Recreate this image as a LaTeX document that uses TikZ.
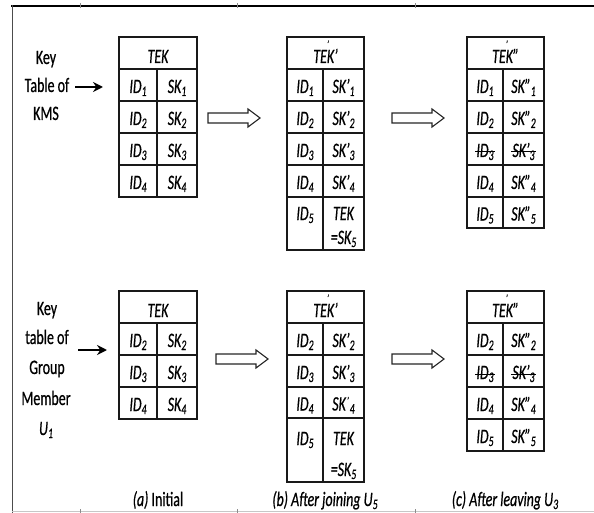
\documentclass[tikz,border=0pt]{standalone}
\usepackage{fontspec}
\setmainfont{Carlito}[FakeStretch=0.68, FakeBold=0.6]
\usetikzlibrary{arrows.meta}

% lowered index digit
\newcommand\dn[1]{\raisebox{-3pt}{\fontsize{14.5}{14.5}\selectfont #1}}
% TEK header with the small tick mark above it
\newcommand\hdtek[1]{TE\rlap{\raisebox{15pt}{\fontsize{11}{11}\selectfont ’}}K#1}

\tikzset{
  cellbox/.style={draw=black!90, line width=1.1pt, inner sep=0pt, outer sep=0pt},
  celltext/.style={anchor=base, inner sep=0pt, text=black,
    font=\fontsize{20.5}{24}\selectfont\itshape},
  labeltext/.style={anchor=base, inner sep=0pt, text=black,
    font=\fontsize{20.5}{24}\selectfont},
  hollowarrow/.style={draw=black!85, line width=1.1pt, fill=white, line join=miter},
  solidarrow/.style={draw=black, line width=1.9pt, -{Stealth[length=10pt,width=10pt]}},
  strike/.style={draw=black, line width=1pt}
}

% header cell: name, left, right, top, text
\newcommand\hdcell[5]{%
  \node[cellbox, minimum width={#3-#2}, minimum height=32] (#1) at ({(#2+#3)/2},{#4+16}) {};
  \node[celltext] (#1-t) at ([yshift=-10pt]#1.center) {#5};}

% table row: name, left, divider, right, top, bottom, id text, key text
\newcommand\trow[8]{%
  \node[cellbox, minimum width={#3-#2}, minimum height={#6-#5}] (#1-id) at ({(#2+#3)/2},{(#5+#6)/2}) {};
  \node[cellbox, minimum width={#4-#3}, minimum height={#6-#5}] (#1-sk) at ({(#3+#4)/2},{(#5+#6)/2}) {};
  \node[celltext] (#1-idt) at ([yshift=-8pt]#1-id.center) {#7};
  \node[celltext] (#1-skt) at ([yshift=-8pt]#1-sk.center) {#8};}

% hollow block arrow: start x, tip x, centre y
\newcommand\hollow[3]{%
  \draw[hollowarrow] (#1,#3-5) -- (#2-12,#3-5) -- (#2-12,#3-9) -- (#2,#3)
    -- (#2-12,#3+9) -- (#2-12,#3+5) -- (#1,#3+5) -- cycle;}

\begin{document}
\begin{tikzpicture}[x=1pt,y=-1pt]
\useasboundingbox (0,0) rectangle (594,513);

% page frame
\draw[black, line width=1.8pt] (11,6) -- (594,6);
\draw[black!70, line width=1pt] (12,5) -- (12,513);
\draw[black!22, line width=0.8pt] (12,511.5) -- (594,511.5);
\foreach \x in {80,237,415} {
  \draw[black!45, line width=0.6pt] (\x,3.5) -- (\x,8.5);
  \draw[black!45, line width=0.6pt] (\x,509) -- (\x,513);
}

% ---------- key table of the KMS ----------
\node[labeltext] (kmsKey) at (46,64) {Key};
\node[labeltext] (kmsTab) at (47,92) {Table of};
\node[labeltext] (kmsKms) at (46,120) {KMS};

% (a) initial
\hdcell{ka}{119}{197}{37}{TEK}
\trow{ka1}{119}{157}{197}{69}{101}{ID\dn1}{SK\dn1}
\trow{ka2}{119}{157}{197}{101}{133}{ID\dn2}{SK\dn2}
\trow{ka3}{119}{157}{197}{133}{165}{ID\dn3}{SK\dn3}
\trow{ka4}{119}{157}{197}{165}{197}{ID\dn4}{SK\dn4}

% (b) after joining
\hdcell{kb}{287}{364}{37}{\hdtek{’}}
\trow{kb1}{287}{323}{364}{69}{101}{ID\dn1}{SK’\dn1}
\trow{kb2}{287}{323}{364}{101}{133}{ID\dn2}{SK’\dn2}
\trow{kb3}{287}{323}{364}{133}{165}{ID\dn3}{SK’\dn3}
\trow{kb4}{287}{323}{364}{165}{197}{ID\dn4}{SK’\dn4}
\trow{kb5}{287}{323}{364}{197}{250}{}{}
\node[celltext] at ([yshift=-23pt]kb5-id.north) {ID\dn5};
\node[celltext] at ([yshift=-23pt]kb5-sk.north) {TEK};
\node[celltext] at ([yshift=-47pt]kb5-sk.north) {=SK\dn5};

% (c) after leaving
\hdcell{kc}{467}{544}{37}{\hdtek{”}}
\trow{kc1}{467}{503}{544}{69}{101}{ID\dn1}{SK”\dn1}
\trow{kc2}{467}{503}{544}{101}{133}{ID\dn2}{SK”\dn2}
\trow{kc3}{467}{503}{544}{133}{165}{ID\dn3}{SK’\dn3}
\trow{kc4}{467}{503}{544}{165}{197}{ID\dn4}{SK”\dn4}
\trow{kc5}{467}{503}{544}{197}{228}{ID\dn5}{SK”\dn5}
\draw[strike] ([xshift=-1pt,yshift=5pt]kc3-idt.base west) -- ([xshift=1pt,yshift=5pt]kc3-idt.base east);
\draw[strike] ([xshift=-1pt,yshift=5pt]kc3-skt.base west) -- ([xshift=1pt,yshift=5pt]kc3-skt.base east);

% connectors
\coordinate (kmsArrow) at (75,87);
\draw[solidarrow, shorten >=16pt] (kmsArrow) -- (kmsArrow -| ka.west);
\hollow{208}{260}{118}
\hollow{392}{444}{118}

% ---------- key table of group member U1 ----------
\node[labeltext] (gmKey) at (47,315) {Key};
\node[labeltext] (gmTab) at (47,344) {table of};
\node[labeltext] (gmGrp) at (47,374) {Group};
\node[labeltext] (gmMem) at (46,405) {Member};
\node[labeltext] (gmU) at (46,435) {\itshape U\dn1};

% (a) initial
\hdcell{ga}{119}{197}{291}{TEK}
\trow{ga2}{119}{157}{197}{323}{355}{ID\dn2}{SK\dn2}
\trow{ga3}{119}{157}{197}{355}{387}{ID\dn3}{SK\dn3}
\trow{ga4}{119}{157}{197}{387}{419}{ID\dn4}{SK\dn4}

% (b) after joining
\hdcell{gb}{287}{364}{291}{\hdtek{’}}
\trow{gb2}{287}{323}{364}{323}{355}{ID\dn2}{SK’\dn2}
\trow{gb3}{287}{323}{364}{355}{387}{ID\dn3}{SK’\dn3}
\trow{gb4}{287}{323}{364}{387}{418}{ID\dn4}{SK\kern1pt\raisebox{6pt}{\fontsize{11}{11}\selectfont ’}\kern1pt\dn4}
\trow{gb5}{287}{323}{364}{418}{482}{}{}
\node[celltext] at ([yshift=-27pt]gb5-id.north) {ID\dn5};
\node[celltext] at ([yshift=-27pt]gb5-sk.north) {TEK};
\node[celltext] at ([yshift=-58pt]gb5-sk.north) {=SK\dn5};

% (c) after leaving
\hdcell{gc}{467}{544}{291}{\hdtek{”}}
\trow{gc2}{467}{503}{544}{323}{355}{ID\dn2}{SK”\dn2}
\trow{gc3}{467}{503}{544}{355}{387}{ID\dn3}{SK’\dn3}
\trow{gc4}{467}{503}{544}{387}{419}{ID\dn4}{SK”\dn4}
\trow{gc5}{467}{503}{544}{419}{451}{ID\dn5}{SK”\dn5}
\draw[strike] ([xshift=-1pt,yshift=5pt]gc3-idt.base west) -- ([xshift=1pt,yshift=5pt]gc3-idt.base east);
\draw[strike] ([xshift=-1pt,yshift=5pt]gc3-skt.base west) -- ([xshift=1pt,yshift=5pt]gc3-skt.base east);

% connectors
\coordinate (gmArrow) at (78,350);
\draw[solidarrow, shorten >=12pt] (gmArrow) -- (gmArrow -| ga.west);
\hollow{216}{268}{359}
\hollow{392}{444}{359}

% ---------- captions ----------
\node[labeltext] (capA) at (158,506) {\itshape (a)\upshape{} Initial};
\node[labeltext] (capB) at (325,506) {\itshape (b) After joining U\dn5};
\node[labeltext] (capC) at (505,506) {\itshape (c) After leaving U\dn3};
\end{tikzpicture}
\end{document}
